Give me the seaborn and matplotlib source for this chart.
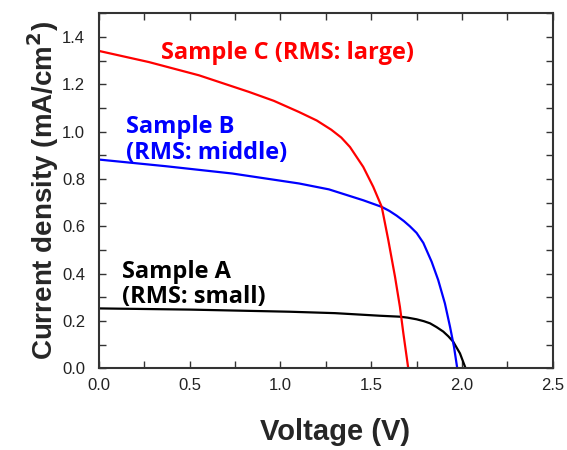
import numpy as np
import pandas as pd
import matplotlib
matplotlib.use("Agg")
import matplotlib.pyplot as plt
import seaborn as sns
from matplotlib.ticker import MultipleLocator

# J-V curves
volt_a = [0.0, 0.5, 1.05, 1.3, 1.548, 1.658, 1.70, 1.75, 1.79, 1.824, 1.86, 1.897, 1.925, 1.952, 1.989, 2.02]
curr_a = [0.253, 0.248, 0.239, 0.233, 0.222, 0.218, 0.214, 0.207, 0.199, 0.19, 0.174, 0.155, 0.135, 0.112, 0.063, 0.0]

volt_b = [0.0, 0.367, 0.735, 1.102, 1.267, 1.456, 1.558, 1.60, 1.64, 1.68, 1.713, 1.75, 1.787, 1.833, 1.869, 1.906, 1.934, 1.956, 1.974]
curr_b = [0.882, 0.854, 0.823, 0.781, 0.756, 0.71, 0.682, 0.665, 0.645, 0.622, 0.60, 0.572, 0.53, 0.45, 0.373, 0.274, 0.176, 0.091, 0.0]

volt_c = [0.0, 0.275, 0.551, 0.826, 0.964, 1.102, 1.20, 1.28, 1.335, 1.383, 1.456, 1.511, 1.558, 1.594, 1.631, 1.658, 1.677, 1.704]
curr_c = [1.341, 1.294, 1.238, 1.168, 1.13, 1.083, 1.047, 1.008, 0.975, 0.935, 0.851, 0.767, 0.682, 0.542, 0.387, 0.26, 0.148, 0.0]

samples = ["A", "B", "C"]
colors = {"A": "black", "B": "#0000ff", "C": "#ff0000"}

df = pd.concat([
    pd.DataFrame({"V": volt_a, "J": curr_a, "s": "A"}),
    pd.DataFrame({"V": volt_b, "J": curr_b, "s": "B"}),
    pd.DataFrame({"V": volt_c, "J": curr_c, "s": "C"}),
])

sns.set_style("ticks")
plt.rcParams['font.family'] = ['Liberation Sans', 'DejaVu Sans']

fig = plt.figure(figsize=(5.67, 4.5), dpi=100)
ax = fig.add_axes([0.1746, 0.1816, 0.8002, 0.7888])

for s in samples:
    sub = df[df["s"] == s]
    sns.lineplot(data=sub, x="V", y="J", color=colors[s], lw=1.6, sort=False, ax=ax,
                 legend=False, solid_joinstyle='round')

ax.set_xlim(0, 2.5)
ax.set_ylim(0, 1.5)
ax.xaxis.set_minor_locator(MultipleLocator(0.25))
ax.yaxis.set_minor_locator(MultipleLocator(0.1))
ax.set_xticks(np.arange(0, 2.51, 0.5))
ax.set_yticks(np.arange(0, 1.41, 0.2))
ax.set_xticklabels(["%.1f" % v for v in np.arange(0, 2.51, 0.5)])
ax.set_yticklabels(["%.1f" % v for v in np.arange(0, 1.41, 0.2)])
ax.tick_params(which='both', direction='in', top=True, right=True, length=5,
               width=1.0, color='#333333', labelsize=12, labelcolor='#222222')
ax.tick_params(axis='y', pad=10)
ax.tick_params(axis='x', pad=7)

for sp in ax.spines.values():
    sp.set_visible(True)
    sp.set_linewidth(1.5)
    sp.set_color('#333333')

ax.set_xlabel("Voltage (V)", fontsize=21, fontweight='bold')
ax.xaxis.set_label_coords(0.52, -0.14, transform=ax.transAxes)
ax.set_ylabel("Current density (mA/cm$^\\mathbf{2}$)", fontsize=20, fontweight='bold', labelpad=1)

lab = dict(fontsize=17, fontweight='bold', family=['Open Sans', 'DejaVu Sans'], va='baseline', ha='left')
ax.text(0.34, 1.309, "Sample C (RMS: large)", color=colors["C"], **lab)
ax.text(0.150, 0.993, "Sample B", color=colors["B"], **lab)
ax.text(0.150, 0.886, "(RMS: middle)", color=colors["B"], **lab)
ax.text(0.125, 0.380, "Sample A", color=colors["A"], **lab)
ax.text(0.125, 0.277, "(RMS: small)", color=colors["A"], **lab)

fig.savefig("out.png", dpi=100)
